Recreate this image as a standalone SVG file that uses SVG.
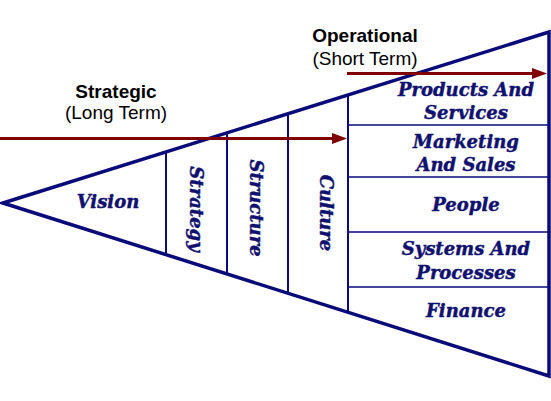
<svg xmlns="http://www.w3.org/2000/svg" width="551" height="401" viewBox="0 0 551 401">
<defs>
<marker id="ah" markerWidth="15" markerHeight="11" refX="5" refY="5.5" orient="auto" markerUnits="userSpaceOnUse">
<path d="M0,0 L15,5.5 L0,11 z" fill="#800000"/>
</marker>
<style>
.out{fill:none;stroke:#0a0a78;stroke-width:3.5;stroke-linejoin:miter}
.div{stroke:#0a0a78;stroke-width:2;fill:none}
.sep{stroke:#0a0a78;stroke-width:1.5;fill:none}
.lbl{font-family:"DejaVu Serif","Liberation Serif",serif;font-weight:bold;font-style:italic;font-size:18px;fill:#10106e;stroke:#10106e;stroke-width:0.45;text-anchor:middle}
.hd{font-family:"Liberation Sans",Arial,sans-serif;font-size:19px;fill:#000;text-anchor:middle}
.arr{stroke:#800000;stroke-width:3.2;fill:none;marker-end:url(#ah)}
</style>
</defs>
<rect width="551" height="401" fill="#fff"/>
<g id="funnel">
<path class="out" d="M549,32 L3,203 L549,376 Z"/>
<line class="div" x1="166" y1="152" x2="166" y2="255"/>
<line class="div" x1="227" y1="133" x2="227" y2="275"/>
<line class="div" x1="288" y1="114" x2="288" y2="294"/>
<line class="div" x1="348" y1="96" x2="348" y2="313"/>
<line class="sep" x1="348" y1="125" x2="549" y2="125"/>
<line class="sep" x1="348" y1="177" x2="549" y2="177"/>
<line class="sep" x1="348" y1="232" x2="549" y2="232"/>
<line class="sep" x1="348" y1="287" x2="549" y2="287"/>
</g>
<g id="vision"><text class="lbl" x="108" y="208">Vision</text></g>
<g id="strategy"><text class="lbl" transform="translate(190,209) rotate(90)">Strategy</text></g>
<g id="structure"><text class="lbl" transform="translate(250,208) rotate(90)">Structure</text></g>
<g id="culture"><text class="lbl" transform="translate(320,213) rotate(90)">Culture</text></g>
<g id="products"><text class="lbl" x="466" y="96">Products And</text><text class="lbl" x="466" y="119">Services</text></g>
<g id="marketing"><text class="lbl" x="466" y="148">Marketing</text><text class="lbl" x="466" y="171">And Sales</text></g>
<g id="people"><text class="lbl" x="466" y="211">People</text></g>
<g id="systems"><text class="lbl" x="466" y="255">Systems And</text><text class="lbl" x="466" y="279">Processes</text></g>
<g id="finance"><text class="lbl" x="466" y="317">Finance</text></g>
<g id="strategic"><text class="hd" x="116" y="98" font-weight="bold">Strategic</text><text class="hd" x="116" y="119">(Long Term)</text></g>
<g id="operational"><text class="hd" x="365" y="42" font-weight="bold">Operational</text><text class="hd" x="365" y="65">(Short Term)</text></g>
<g id="connectors">
<line class="arr" x1="0" y1="138.5" x2="337" y2="138.5"/>
<line class="arr" x1="347" y1="73.5" x2="537" y2="73.5"/>
</g>
</svg>
